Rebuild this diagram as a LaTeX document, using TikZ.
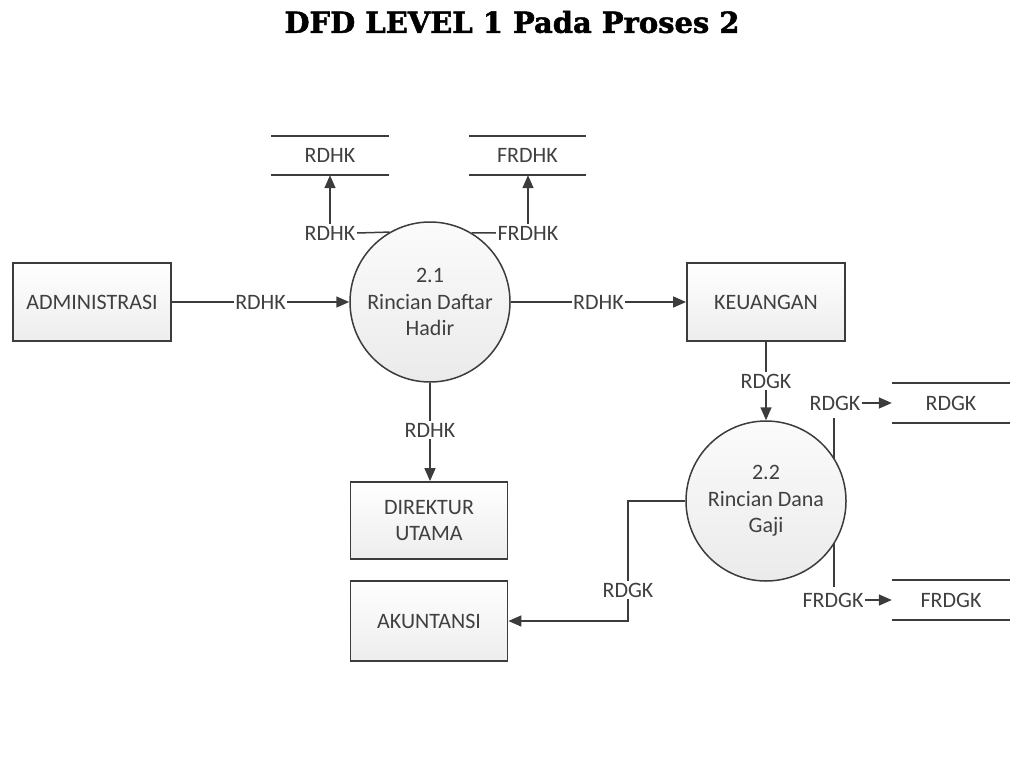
\documentclass[tikz,border=0pt]{standalone}
\usepackage{fontspec}
\usepackage{graphicx}
\setmainfont{Carlito}
\newfontfamily\titlefont[BoldFeatures={FakeBold=1.6}]{DejaVu Serif}
\usetikzlibrary{arrows.meta,shapes.geometric}
\definecolor{ln}{HTML}{3C3C3C}
\definecolor{tx}{HTML}{404040}
\tikzset{
  ent/.style={draw=ln,line width=1.8pt,minimum width=158pt,minimum height=78pt,inner sep=0pt,
    top color=white,bottom color=gray!14,text=tx,font=\fontsize{22pt}{26pt}\selectfont,align=center},
  proc/.style={circle,draw=ln,line width=1.5pt,minimum size=160pt,inner sep=0pt,
    top color=gray!3,bottom color=gray!16,text=tx,font=\fontsize{22pt}{26.5pt}\selectfont,align=center},
  store/.style={minimum width=117pt,minimum height=39pt,inner sep=0pt,text=tx,font=\fontsize{22pt}{26pt}\selectfont},
  flab/.style={fill=white,inner sep=1.5pt,text=tx,font=\fontsize{22pt}{26pt}\selectfont},
  flow/.style={draw=ln,line width=1.5pt},
  aflow/.style={flow,-{Triangle[length=13pt,width=11pt]}}
}
\newcommand{\storelines}[1]{\draw[ln,line width=1.5pt] (#1.north west) -- (#1.north east) (#1.south west) -- (#1.south east);}
\begin{document}
\begin{tikzpicture}[x=1pt,y=-1pt]
\useasboundingbox (0,0) rectangle (1024,768);
\node[font=\titlefont\bfseries] (title) at (512,22) {\resizebox{455pt}{!}{DFD LEVEL 1 Pada Proses 2}};

% entities
\node[ent] (adm) at (92,302) {ADMINISTRASI};
\node[ent] (keu) at (766,302) {KEUANGAN};
\node[ent,minimum width=157pt,minimum height=77pt] (dir) at (429,520.5) {DIREKTUR\\UTAMA};
\node[ent,minimum width=157pt,minimum height=80pt] (aku) at (429,621) {AKUNTANSI};

% processes
\node[proc] (p1) at (430,302) {2.1\\Rincian Daftar\\Hadir};
\node[proc] (p2) at (766,501) {2.2\\Rincian Dana\\Gaji};

% stores
\node[store] (s1) at (330,155.5) {RDHK};
\node[store] (s2) at (527.5,155.5) {FRDHK};
\node[store,minimum width=118pt,minimum height=40pt] (s3) at (951,403) {RDGK};
\node[store,minimum width=118pt,minimum height=40pt] (s4) at (951,600) {FRDGK};
\storelines{s1}
\storelines{s2}
\storelines{s3}
\storelines{s4}

% ADMINISTRASI -> 2.1
\draw[aflow] (adm.east) -- (p1.west) node[flab,pos=0.5] (l1) {RDHK};
% 2.1 -> KEUANGAN
\draw[aflow] (p1.east) -- (keu.west) node[flab,pos=0.5] (l2) {RDHK};
% 2.1 -> DIREKTUR
\draw[aflow] (p1.south) -- (p1.south |- dir.north) node[flab,pos=0.48] (l3) {RDHK};
% 2.1 -> store RDHK
\node[flab] (l4) at (330,233) {RDHK};
\draw[flow] (p1.120.4) -- (l4.east);
\draw[aflow] (l4.north) -- (l4.north |- s1.south);
% 2.1 -> store FRDHK
\node[flab] (l5) at (528,233) {FRDHK};
\draw[flow] (p1.59.6) -- (l5.west);
\draw[aflow] (l5.north) -- (l5.north |- s2.south);
% KEUANGAN -> 2.2
\draw[aflow] (keu.south) -- (p2.north) node[flab,pos=0.5] (l6) {RDGK};
% 2.2 -> store RDGK
\node[flab] (l7) at (835,403) {RDGK};
\coordinate (t7) at (834,418);
\draw[flow] (p2.31.8 -| t7) -- (t7);
\draw[aflow] (l7.east) -- (s3.west);
% 2.2 -> store FRDGK
\node[flab] (l8) at (833,600) {FRDGK};
\coordinate (t8) at (834,587);
\draw[flow] (p2.-31.8 -| t8) -- (t8);
\draw[aflow] (l8.east) -- (s4.west);
% 2.2 -> AKUNTANSI
\coordinate (b1) at (628,501);
\coordinate (b2) at (628,621);
\draw[aflow] (p2.west) -- (b1) -- (b2) -- (aku.east);
\node[flab] (l9) at (628,590) {RDGK};
\end{tikzpicture}
\end{document}
